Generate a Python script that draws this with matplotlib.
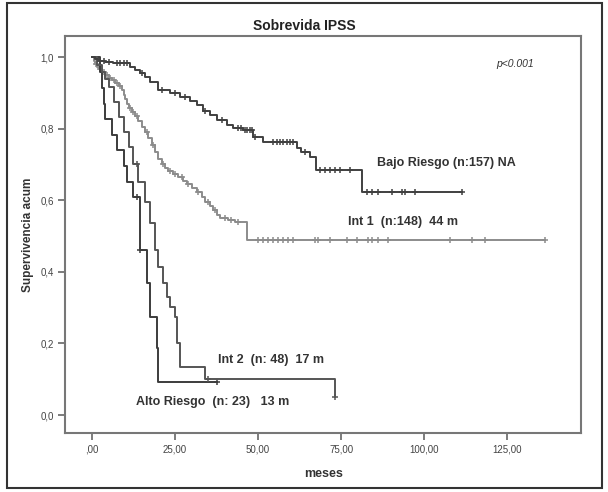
import numpy as np
import matplotlib
matplotlib.use('Agg')
import matplotlib.pyplot as plt
from matplotlib.patches import Rectangle

plt.rcParams['font.family'] = ['Liberation Sans', 'DejaVu Sans']

# Kaplan-Meier steps (time in months, cumulative survival)
bajo_t = [0, 1, 2, 4, 6.4, 11.4, 13, 14.5, 16, 17.5, 19.9, 23.5, 26.5, 29.5, 31.5, 33.4, 35.5,
          37.6, 40.6, 42.5, 45.5, 48.5, 51.5, 61.7, 63, 65.5, 67.5, 81.3]
bajo_s = [1.0, 0.994, 0.99, 0.987, 0.982, 0.972, 0.965, 0.955, 0.945, 0.93, 0.908, 0.9, 0.889,
          0.878, 0.865, 0.85, 0.837, 0.824, 0.81, 0.803, 0.796, 0.777, 0.762, 0.745, 0.735, 0.722,
          0.684, 0.623]
bajo_end = 111.4
bajo_cens = [2.5, 3.5, 5, 7.5, 8.5, 9.5, 10.5, 15, 21, 25, 28, 34, 39, 44, 45, 46, 46.7, 47.6,
             48.2, 49, 54.5, 55.7, 56.6, 57.5, 58.7, 59.6, 60.5, 64, 68.7, 70.2, 71.7, 73.2, 74.7,
             77.7, 82.8, 84.3, 86.1, 90.4, 93.4, 94.3, 97.3, 111.4]

int1_t = [0, 0.5, 1, 1.5, 2, 3, 4, 5, 6, 7, 8, 9, 9.5, 10, 10.5, 11, 12, 13, 14, 15, 16, 17, 18,
          19, 20, 21, 22, 23, 24.5, 26, 27.5, 28.5, 30, 31.5, 33, 34, 35.5, 36.5, 37.5, 38.5, 41,
          43, 46.7]
int1_s = [1.0, 0.99, 0.98, 0.973, 0.966, 0.958, 0.95, 0.942, 0.935, 0.927, 0.918, 0.908, 0.895,
          0.882, 0.87, 0.858, 0.847, 0.835, 0.82, 0.805, 0.79, 0.775, 0.755, 0.735, 0.715, 0.7,
          0.69, 0.682, 0.674, 0.665, 0.655, 0.645, 0.635, 0.622, 0.608, 0.596, 0.583, 0.572,
          0.56, 0.55, 0.545, 0.538, 0.49]
int1_end = 136.4
int1_cens = [1.2, 2.5, 3.5, 4.5, 5.5, 6.5, 7.5, 8.5, 11.5, 12.5, 13.5, 16.5, 18.5, 21.5, 23.5,
             25, 27, 29, 32, 35, 37, 40, 42, 44, 50, 51.5, 53, 54.5, 56, 57.5, 59, 60.5, 67.2,
             68, 71.7, 76.8, 79.8, 83, 84.3, 86, 89, 107.8, 114.5, 118.4, 136.4]

int2_t = [0, 1.5, 3, 4, 5, 6.5, 8, 9.5, 11, 12.5, 14, 16, 17.5, 19, 20, 21.5, 22.5, 23.5, 25,
          25.5, 26.5, 34, 73.2]
int2_s = [1.0, 0.979, 0.958, 0.938, 0.917, 0.875, 0.833, 0.79, 0.75, 0.70, 0.65, 0.595, 0.536,
          0.46, 0.413, 0.369, 0.33, 0.302, 0.274, 0.2, 0.134, 0.1, 0.05]
int2_end = 73.2
int2_cens = [13.5, 35, 73.2]

alto_t = [0, 2.5, 3.0, 3.5, 4.0, 6.0, 7.5, 9.5, 10.5, 12.5, 14.5, 16.5, 17.5, 19.5, 20.0]
alto_s = [1.0, 0.957, 0.913, 0.870, 0.826, 0.783, 0.739, 0.696, 0.652, 0.609, 0.46, 0.37,
          0.274, 0.187, 0.092]
alto_end = 37.5
alto_cens = [13.5, 14.5, 37.5]

groups = [
    (int1_t, int1_s, int1_end, int1_cens, '#8c8c8c'),
    (alto_t, alto_s, alto_end, alto_cens, '#3c3c3c'),
    (int2_t, int2_s, int2_end, int2_cens, '#555555'),
    (bajo_t, bajo_s, bajo_end, bajo_cens, '#404040'),
]

fig = plt.figure(figsize=(6.08, 4.92), dpi=100)
ax = fig.add_axes([0.107, 0.12, 0.849, 0.807])

for t, s, end, cens, col in groups:
    t = np.array(t + [end])
    s = np.array(s + [s[-1]])
    ax.step(t, s, where='post', color=col, lw=1.4)
    c = np.array(cens)
    idx = np.searchsorted(t, c, side='right') - 1
    ax.plot(c, s[idx], ls='none', marker='+', ms=5, mew=1.1, color=col)

ax.set_xlim(-8.1, 147.3)
ax.set_ylim(-0.05, 1.059)
ax.set_xticks([0, 25, 50, 75, 100, 125])
ax.set_xticklabels([',00', '25,00', '50,00', '75,00', '100,00', '125,00'])
ax.set_yticks([0, 0.2, 0.4, 0.6, 0.8, 1.0])
ax.set_yticklabels(['0,0', '0,2', '0,4', '0,6', '0,8', '1,0'])
ax.tick_params(direction='out', length=5, width=1.2, color='#666666', labelsize=7,
               labelcolor='#444444', pad=3)
for sp in ax.spines.values():
    sp.set_color('#777777')
    sp.set_linewidth(1.5)

ax.set_xlabel('meses', fontsize=9, fontweight='bold', color='#333333', labelpad=10)
ax.set_ylabel('Supervivencia acum', fontsize=8.5, fontweight='bold', color='#333333', labelpad=5)
fig.text(0.5, 0.947, 'Sobrevida IPSS', ha='center', va='center', fontsize=10,
         fontweight='bold', color='#222222')

ax.text(127.4, 0.98, 'p<0.001', ha='center', va='center', fontsize=7.5, style='italic',
        color='#333333')
lab = dict(fontsize=9, fontweight='bold', color='#333333', va='center')
ax.text(85.8, 0.704, 'Bajo Riesgo (n:157) NA', **lab)
ax.text(77.1, 0.539, 'Int 1  (n:148)  44 m', **lab)
ax.text(38.0, 0.154, 'Int 2  (n: 48)  17 m', **lab)
ax.text(13.3, 0.036, 'Alto Riesgo  (n: 23)   13 m', **lab)

fig.patches.append(Rectangle((7 / 608, 4 / 492), 595 / 608, 485 / 492, transform=fig.transFigure,
                             fill=False, edgecolor='#333333', lw=1.5))

fig.savefig('out.png', dpi=100)
